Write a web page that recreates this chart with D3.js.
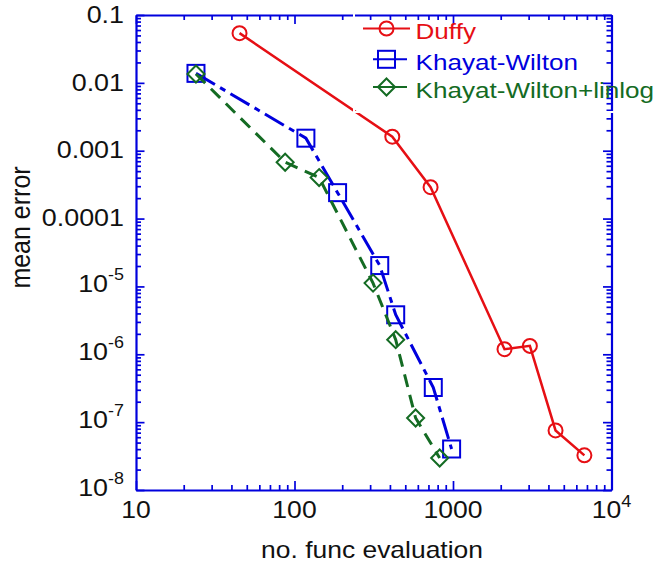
<!DOCTYPE html>
<html>
<head>
<meta charset="utf-8">
<script src="https://cdn.jsdelivr.net/npm/d3@7"></script>
<style>
  html, body { margin: 0; padding: 0; background: #fff; }
  svg { display: block; }
</style>
</head>
<body>
<script>
// Convergence of the quadrature schemes: mean error vs. number of function evaluations
const xTickValues = [10, 100, 1000, 10000];
const xTickLabels = [["10"], ["100"], ["1000"], ["10", "4"]];
const yTickValues = [1e-1, 1e-2, 1e-3, 1e-4, 1e-5, 1e-6, 1e-7, 1e-8];
const yTickLabels = [["0.1"], ["0.01"], ["0.001"], ["0.0001"], ["10", "-5"], ["10", "-6"], ["10", "-7"], ["10", "-8"]];

const seriesNames = ["Duffy", "Khayat-Wilton", "Khayat-Wilton+linlog"];
const duffyEvals = [45, 414, 722, 2113, 3055, 4436, 6745];
const duffyError = [0.054, 0.00161, 2.9e-4, 1.19e-6, 1.33e-6, 7.55e-8, 3.24e-8];
const kwEvals = [23.9, 118, 187, 345, 435, 751, 980];
const kwError = [0.0138, 0.00153, 2.41e-4, 2.03e-5, 3.82e-6, 3.24e-7, 4.02e-8];
const kwlEvals = [23.9, 87.3, 143, 313, 435, 581, 824];
const kwlError = [0.0135, 6.76e-4, 4.02e-4, 1.12e-5, 1.64e-6, 1.15e-7, 2.96e-8];

const W = 657, H = 567;
const FONT = "'Liberation Sans', Arial, Helvetica, sans-serif";
const axisColor = "#0000dd";
const colors = ["#e60f14", "#0000dd", "#146b23"];
const symbols = ["circle", "square", "diamond"];
const dashes = [null, "22,6,6,6", "13,8"];

const svg = d3.select("body").append("svg").attr("width", W).attr("height", H);

const x = d3.scaleLog().domain([10, 1e4]).range([136, 611.5]);
const y = d3.scaleLog().domain([1e-8, 0.1]).range([490, 15]);

// minor ticks at 2..9 within each decade
function minorTicks(lo, hi) {
  const out = [];
  for (let e = Math.round(Math.log10(lo)); e < Math.round(Math.log10(hi)); e++)
    for (let k = 2; k < 10; k++) out.push(k * Math.pow(10, e));
  return out;
}
const xMinor = minorTicks(10, 1e4);
const yMinor = minorTicks(1e-8, 0.1);

function drawAxis(gen, tr, values, size, keepDomain) {
  const g = svg.append("g").attr("transform", tr)
    .call(gen.tickValues(values).tickSize(size).tickSizeOuter(0).tickFormat(""));
  if (keepDomain) g.select(".domain").attr("stroke", axisColor).attr("stroke-width", 2.2);
  else g.select(".domain").remove();
  g.selectAll(".tick line").attr("stroke", axisColor).attr("stroke-width", 1.7);
  g.selectAll(".tick text").remove();
  return g;
}

// frame with inward ticks on all four sides
[[d3.axisBottom(x), "translate(0,490)"], [d3.axisTop(x), "translate(0,15)"]].forEach(([gen, tr]) => {
  drawAxis(gen, tr, xMinor, -5, false);
  drawAxis(gen.scale(x), tr, xTickValues, -9, true);
});
[[d3.axisLeft(y), "translate(136,0)"], [d3.axisRight(y), "translate(611.5,0)"]].forEach(([gen, tr]) => {
  drawAxis(gen, tr, yMinor, -5, false);
  drawAxis(gen.scale(y), tr, yTickValues, -8.5, true);
});

// tick label with optional superscript exponent
function tickLabel(px, py, parts, anchor, size, sx) {
  const t = svg.append("text")
    .attr("transform", `translate(${px},${py}) scale(${sx},1)`)
    .attr("text-anchor", anchor)
    .attr("font-family", FONT).attr("font-size", size).attr("fill", "#111");
  t.append("tspan").text(parts[0]);
  if (parts[1]) t.append("tspan").attr("font-size", 16).attr("dy", -11.7).text(parts[1]);
}
xTickValues.forEach((v, i) => tickLabel(x(v), 518.3, xTickLabels[i], "middle", 23.5, 1.13));
yTickValues.forEach((v, i) => tickLabel(124, y(v) + (yTickLabels[i][1] ? 5.7 : 7.7), yTickLabels[i], "end", 24, 1.12));

// axis titles
svg.append("text")
  .attr("transform", "translate(372,558) scale(1.15,1)")
  .attr("text-anchor", "middle").attr("font-family", FONT).attr("font-size", 23).attr("fill", "#111")
  .text("no. func evaluation");
svg.append("text")
  .attr("transform", "translate(29.5,227.5) rotate(-90) scale(1,1.07)")
  .attr("text-anchor", "middle").attr("font-family", FONT).attr("font-size", 25).attr("fill", "#111")
  .text("mean error");

// markers
function marker(g, kind, cx, cy, color) {
  if (kind === "circle")
    g.append("circle").attr("cx", cx).attr("cy", cy).attr("r", 7);
  else if (kind === "square")
    g.append("rect").attr("x", cx - 8.5).attr("y", cy - 8.5).attr("width", 17).attr("height", 17);
  else
    g.append("path").attr("d", `M${cx},${cy - 8.5}L${cx + 8.5},${cy}L${cx},${cy + 8.5}L${cx - 8.5},${cy}Z`);
  g.selectAll("*").attr("fill", "none").attr("stroke", color).attr("stroke-width", 2);
}

const series = [
  d3.zip(duffyEvals, duffyError),
  d3.zip(kwEvals, kwError),
  d3.zip(kwlEvals, kwlError)
];
const line = d3.line().x(d => x(d[0])).y(d => y(d[1]));

series.forEach((pts, i) => {
  svg.append("path").attr("d", line(pts))
    .attr("fill", "none").attr("stroke", colors[i])
    .attr("stroke-width", i === 0 ? 2.5 : 3)
    .attr("stroke-dasharray", dashes[i]);
  const mg = svg.append("g");
  pts.forEach(p => marker(mg.append("g"), symbols[i], x(p[0]), y(p[1]), colors[i]));
});

// white outline of the legend box
svg.append("rect").attr("x", 354).attr("y", 2).attr("width", 320).attr("height", 110)
  .attr("fill", "none").attr("stroke", "#fff").attr("stroke-width", 2);

// legend
const legRows = [28.5, 59.3, 87];
const legLine = [[363, 410], [373, 407], [373, 407]];
seriesNames.forEach((name, i) => {
  const ry = legRows[i];
  svg.append("line").attr("x1", legLine[i][0]).attr("x2", legLine[i][1])
    .attr("y1", ry).attr("y2", ry).attr("stroke", colors[i]).attr("stroke-width", 2);
  marker(svg.append("g"), symbols[i], 386.5, ry, colors[i]);
  svg.append("text")
    .attr("transform", `translate(415.5,${ry + 10.5}) scale(1.16,1)`)
    .attr("font-family", FONT).attr("font-size", 22.5).attr("fill", colors[i])
    .text(name);
});
</script>
</body>
</html>
